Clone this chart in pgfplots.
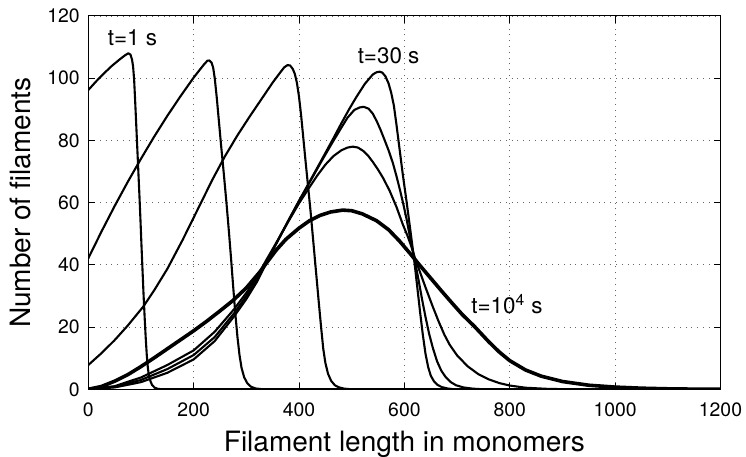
\documentclass[border=0pt]{standalone}
\usepackage{fontspec}
\setmainfont{TeX Gyre Heros}
\usepackage{pgfplots}
\pgfplotsset{compat=1.18}

\begin{document}
\begin{tikzpicture}
\begin{axis}[
  name=ax,
  width=316.1pt, height=186.65pt, scale only axis,
  xmin=0, xmax=1200, ymin=0, ymax=120,
  xtick={0,200,...,1200}, ytick={0,20,...,120},
  tick align=inside, major tick length=3.3pt,
  tick style={black, line width=0.5pt},
  axis line style={line width=0.5pt},
  grid=major, grid style={black!60, line width=0.45pt, dash pattern=on 0.5pt off 2.4pt},
  ticklabel style={font=\fontsize{9.7}{11}\selectfont},
  xticklabel style={yshift=-3.2pt},
  yticklabel style={xshift=-0.8pt},
  /pgf/number format/assume math mode=true,
  /pgf/number format/1000 sep={},
  xlabel={Filament length in monomers},
  ylabel={Number of filaments},
  label style={font=\fontsize{14}{16}\selectfont},
  xlabel style={at={(axis description cs:0.5,-0.167)}, anchor=base},
  ylabel style={at={(axis description cs:-0.108,0.5)}, anchor=center},
  curve/.style={black, solid, mark=none, line width=1.05pt, line join=round},
]
% t = 1 s
\addplot[curve] coordinates {
(0,96.2) (15,99.0) (30,101.6) (45,104.0) (60,106.1) (70,107.4) (76,108.0) (80,107.6)
(83,106.0) (85,103.8) (87,99.5) (89,92.5) (91,85.0) (93,77.5) (95,70.0) (97,62.5)
(99,54.5) (101,46.0) (103,38.0) (105,30.0) (107,23.0) (109,16.5) (111,11.0) (113,7.0)
(115,4.5) (118,2.6) (121,1.4) (126,0.5) (132,0.15) (140,0) (1200,0)};
\addplot[curve] coordinates {
(0,42.1) (25,50.7) (50,58.9) (75,66.7) (100,74.1) (125,81.2) (150,87.9) (175,94.2)
(200,100.2) (212,102.8) (220,104.5) (226,105.6) (230,105.7) (234,105.0) (237,103.4)
(240,100.0) (244,93.5) (248,86.0) (252,78.5) (256,71.5) (259,66.0) (263,58.5) (267,50.5)
(271,42.0) (275,33.0) (279,24.5) (283,17.0) (287,11.0) (291,6.8) (296,3.8) (302,1.9)
(309,0.8) (318,0.25) (332,0) (1200,0)};
\addplot[curve] coordinates {
(0,7.8) (25,11.6) (50,15.8) (75,20.5) (104,26.5) (125,31.8) (150,38.7) (179,48.0)
(212,59.3) (235,67.2) (259,74.8) (283,81.6) (306,87.6) (330,93.6) (350,98.6) (365,102.0)
(372,103.5) (378,104.2) (383,104.1) (388,103.0) (392,101.4) (396,98.5) (400,94.0)
(404,88.0) (408,81.0) (412,74.0) (417,65.5) (422,57.0) (426,49.5) (430,42.0) (434,34.5)
(438,27.0) (442,19.8) (446,13.0) (450,8.5) (455,5.0) (461,2.7) (468,1.3) (476,0.6)
(486,0.2) (500,0) (1200,0)};
% t = 30 s
\addplot[curve] coordinates {
(0,0) (50,0.6) (100,2.3) (150,5.3) (200,9.6) (240,15.5) (277,23.5) (300,29.0) (320,34.5)
(338,40.6) (360,47.8) (380,54.3) (400,60.6) (420,66.7) (445,74.4) (465,80.6) (480,85.4)
(495,90.0) (509,94.0) (525,98.2) (540,101.2) (547,101.9) (553,102.1) (558,101.8)
(564,100.6) (570,98.3) (575,95.3) (580,91.2) (585,85.0) (591,77.0) (597,69.0) (604,60.5)
(610,52.8) (615,46.3) (620,39.5) (625,32.0) (630,24.5) (635,17.5) (640,11.5) (645,7.2)
(650,4.4) (656,2.6) (663,1.4) (671,0.7) (682,0.25) (695,0) (1200,0)};
\addplot[curve] coordinates {
(0,0) (50,0.8) (100,3.0) (150,6.5) (200,11.0) (240,16.8) (277,24.5) (300,30.0) (320,35.0)
(338,41.0) (360,48.0) (380,54.3) (400,60.5) (420,66.5) (445,74.0) (465,79.8) (480,84.0)
(492,87.3) (505,89.8) (515,90.6) (523,90.8) (532,90.2) (540,88.6) (548,86.0) (555,83.3)
(562,80.3) (570,76.8) (578,72.8) (585,68.5) (592,63.8) (598,59.5) (604,54.8) (610,49.5)
(615,45.3) (620,41.2) (627,35.0) (634,28.5) (640,23.3) (647,17.8) (654,13.3) (662,9.0)
(670,6.0) (678,4.0) (688,2.3) (698,1.3) (712,0.6) (730,0.2) (750,0) (1200,0)};
\addplot[curve] coordinates {
(0,0) (50,1.0) (100,3.8) (150,7.8) (200,12.5) (240,18.5) (277,25.8) (300,31.0) (320,36.0)
(338,41.6) (360,48.0) (380,54.0) (400,59.8) (420,65.0) (435,68.8) (450,72.2) (465,74.9)
(480,76.8) (492,77.7) (502,78.0) (512,77.7) (522,76.6) (532,74.9) (540,73.1) (550,70.6)
(560,67.8) (572,63.8) (585,58.6) (597,53.0) (606,49.3) (613,46.0) (620,42.2) (630,37.5)
(640,32.8) (654,26.5) (665,21.8) (676,17.5) (686,14.3) (700,10.9) (720,7.4) (740,4.9)
(760,3.2) (780,2.0) (800,1.2) (830,0.5) (870,0.15) (910,0) (1200,0)};
% t = 10^4 s
\addplot[curve, line width=1.8pt] coordinates {
(0,0) (25,0.9) (50,2.6) (75,4.7) (100,7.3) (125,10.1) (150,13.0) (175,15.9) (200,18.8)
(225,21.9) (250,25.2) (275,28.6) (300,32.6) (325,37.6) (340,41.0) (357,44.8) (375,48.2)
(400,51.8) (420,54.2) (440,55.9) (460,57.0) (483,57.6) (500,57.4) (520,56.4) (547,54.2)
(570,51.3) (591,47.6) (610,43.8) (630,39.7) (650,35.7) (670,31.7) (690,27.8) (710,24.0)
(733,20.2) (760,15.3) (780,12.0) (800,9.2) (830,6.2) (860,4.2) (900,2.5) (950,1.3)
(1000,0.7) (1050,0.35) (1100,0.15) (1150,0.05) (1200,0)};
\node[anchor=base, font=\fontsize{11.2}{13}\selectfont] at (axis cs:83.8,110.4) {t=1 s};
\node[anchor=base, font=\fontsize{11.2}{13}\selectfont] at (axis cs:570,104.8) {t=30 s};
\node[anchor=base, font=\fontsize{11.2}{13}\selectfont] at (axis cs:794.7,24.5) {t=10\textsuperscript{4} s};
\end{axis}
\pgfresetboundingbox
\useasboundingbox ([xshift=-44.15pt,yshift=-33.85pt]ax.south west) rectangle ([xshift=12.75pt,yshift=8pt]ax.north east);
\end{tikzpicture}
\end{document}
